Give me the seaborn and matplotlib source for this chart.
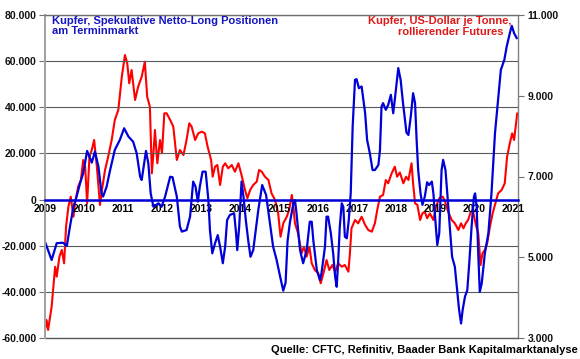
import matplotlib
matplotlib.use("Agg")
import matplotlib.pyplot as plt
from matplotlib.ticker import FuncFormatter
import seaborn as sns
import numpy as np

# ---- data: speculative net-long positions (contracts), left axis ----
blue_years = [2009.00, 2009.17, 2009.30, 2009.46, 2009.56, 2009.64, 2009.73, 2009.81, 2009.90, 2009.98,
              2010.08, 2010.20, 2010.28, 2010.37, 2010.45, 2010.49, 2010.58, 2010.67, 2010.79, 2010.92,
              2011.03, 2011.14, 2011.26, 2011.35, 2011.44, 2011.48, 2011.59, 2011.65, 2011.71, 2011.78,
              2011.91, 2011.99, 2012.08, 2012.21, 2012.27, 2012.38, 2012.46, 2012.51, 2012.63, 2012.72,
              2012.80, 2012.86, 2012.92, 2012.97, 2013.04, 2013.12, 2013.19, 2013.23, 2013.29, 2013.36,
              2013.43, 2013.49, 2013.56, 2013.62, 2013.67, 2013.74, 2013.85, 2013.90, 2013.93, 2013.98,
              2014.04, 2014.10, 2014.15, 2014.21, 2014.27, 2014.34, 2014.47, 2014.57, 2014.67, 2014.77,
              2014.85, 2014.94, 2015.03, 2015.11, 2015.17, 2015.22, 2015.28, 2015.37, 2015.41, 2015.45,
              2015.54, 2015.62, 2015.71, 2015.79, 2015.84, 2015.88, 2015.97, 2016.05, 2016.09, 2016.18,
              2016.22, 2016.26, 2016.33, 2016.39, 2016.44, 2016.48, 2016.52, 2016.56, 2016.61, 2016.65,
              2016.69, 2016.74, 2016.79, 2016.84, 2016.89, 2016.95, 2016.99, 2017.05, 2017.12, 2017.21,
              2017.26, 2017.33, 2017.40, 2017.46, 2017.55, 2017.59, 2017.63, 2017.67, 2017.74, 2017.80,
              2017.87, 2017.93, 2017.97, 2018.06, 2018.12, 2018.18, 2018.27, 2018.32, 2018.38, 2018.44,
              2018.49, 2018.53, 2018.57, 2018.63, 2018.68, 2018.74, 2018.80, 2018.85, 2018.92, 2018.96,
              2019.01, 2019.06, 2019.11, 2019.17, 2019.21, 2019.27, 2019.33, 2019.38, 2019.44, 2019.51,
              2019.57, 2019.62, 2019.67, 2019.71, 2019.77, 2019.83, 2019.88, 2019.94, 2020.00, 2020.03,
              2020.07, 2020.11, 2020.15, 2020.20, 2020.28, 2020.37, 2020.45, 2020.54, 2020.61, 2020.69,
              2020.78, 2020.84, 2020.92, 2020.97, 2021.03, 2021.10]
blue_positions = [-18300, -26200, -18900, -18700, -20100, -11700, -3100, 1300, 7100, 11400,
                  21100, 16000, 20800, 14300, 2700, 1300, 5600, 12800, 21500, 25900,
                  30900, 27300, 25100, 20100, 9900, 8500, 21100, 15700, 2700, -3100,
                  -1600, -3100, 1300, 9900, 9700, 1300, -11700, -13900, -13200, -7400,
                  7800, 5600, -900, 5600, 12100, 12100, -200, -13200, -23300, -19000,
                  -15400, -20400, -27600, -20400, -8900, -6700, -5900, -14600, -21900, -11700,
                  7800, -200, -8900, -17500, -24800, -21900, -4500, 6300, 2000, -10300,
                  -20400, -26200, -33400, -39500, -36000, -18000, -10000, -1600, -200, -5900,
                  -21900, -27600, -21900, -9600, -9600, -17500, -30500, -34900, -32000, -20400,
                  -7400, -7400, -14600, -23300, -33400, -37800, -26200, -11700, -1600, -3100,
                  -16100, -16800, -8900, 2700, 31600, 51900, 52200, 48300, 49000, 37400,
                  25900, 20100, 12800, 12800, 15000, 21500, 40300, 41800, 38900, 41000,
                  45400, 37400, 43200, 57000, 51900, 42000, 29000, 28000, 36000, 46100,
                  41800, 25900, 12800, 2700, -2300, 1300, 7500, 6300, 7800, 2700,
                  -8900, -19700, -14600, 12800, 17200, 12800, -200, -11700, -24800, -29100,
                  -39200, -47900, -53700, -47900, -42100, -39200, -27600, -11700, 1300, 2700,
                  -3100, -23300, -40000, -36300, -23300, -14600, 2700, 28800, 41800, 56200,
                  60600, 66300, 72100, 75300, 72100, 69900]

# ---- data: copper price, USD per tonne, right axis ----
red_years = [2009.00, 2009.04, 2009.08, 2009.17, 2009.26, 2009.30, 2009.37, 2009.43, 2009.49, 2009.54,
             2009.60, 2009.66, 2009.73, 2009.77, 2009.85, 2009.92, 2009.98, 2010.03, 2010.08, 2010.14,
             2010.20, 2010.26, 2010.33, 2010.41, 2010.46, 2010.54, 2010.62, 2010.71, 2010.79, 2010.88,
             2010.97, 2011.05, 2011.11, 2011.16, 2011.22, 2011.31, 2011.39, 2011.48, 2011.56, 2011.62,
             2011.69, 2011.74, 2011.78, 2011.82, 2011.88, 2011.95, 2012.00, 2012.06, 2012.12, 2012.21,
             2012.29, 2012.38, 2012.46, 2012.55, 2012.63, 2012.70, 2012.76, 2012.85, 2012.93, 2013.02,
             2013.10, 2013.17, 2013.26, 2013.30, 2013.36, 2013.42, 2013.49, 2013.56, 2013.62, 2013.70,
             2013.79, 2013.87, 2013.96, 2014.04, 2014.13, 2014.19, 2014.26, 2014.34, 2014.43, 2014.49,
             2014.56, 2014.64, 2014.73, 2014.81, 2014.90, 2014.98, 2015.04, 2015.11, 2015.20, 2015.26,
             2015.33, 2015.37, 2015.41, 2015.49, 2015.58, 2015.64, 2015.71, 2015.78, 2015.84, 2015.92,
             2016.01, 2016.07, 2016.14, 2016.22, 2016.29, 2016.37, 2016.44, 2016.52, 2016.61, 2016.69,
             2016.78, 2016.82, 2016.86, 2016.95, 2017.03, 2017.12, 2017.21, 2017.29, 2017.38, 2017.46,
             2017.52, 2017.59, 2017.67, 2017.74, 2017.80, 2017.89, 2017.97, 2018.03, 2018.10, 2018.19,
             2018.26, 2018.32, 2018.40, 2018.44, 2018.49, 2018.55, 2018.62, 2018.68, 2018.74, 2018.80,
             2018.87, 2018.96, 2019.03, 2019.11, 2019.20, 2019.26, 2019.34, 2019.43, 2019.51, 2019.60,
             2019.67, 2019.73, 2019.79, 2019.85, 2019.92, 2019.98, 2020.05, 2020.11, 2020.17, 2020.22,
             2020.28, 2020.34, 2020.41, 2020.48, 2020.56, 2020.62, 2020.71, 2020.79, 2020.85, 2020.92,
             2020.98, 2021.03, 2021.08, 2021.11]
red_price = [3200, 3445, 3200, 3775, 4766, 4520, 5015, 5180, 4850, 5757,
             6252, 6500, 6004, 6336, 6748, 6913, 7409, 7243, 6336, 7490,
             7656, 7904, 7243, 6294, 6665, 7161, 7490, 7904, 8400, 8647,
             9472, 10009, 9800, 9309, 9638, 8895, 9225, 9472, 9844, 8977,
             8729, 7079, 7574, 8152, 7327, 7904, 7574, 8565, 8565, 8400,
             8235, 7409, 7656, 7532, 7904, 8318, 8235, 7904, 8070, 8110,
             8070, 7738, 7409, 6995, 7243, 7285, 6790, 7243, 7327, 7203,
             7285, 7119, 7327, 7037, 6665, 6460, 6665, 6790, 6871, 7161,
             7119, 6995, 6913, 6583, 6418, 6088, 5509, 5841, 6004, 6170,
             6542, 6252, 5841, 5593, 5098, 5261, 5015, 5261, 4850, 4684,
             4602, 4355, 4602, 4932, 4684, 4808, 4642, 4850, 4766, 4808,
             4642, 5098, 5717, 5923, 5841, 6004, 5799, 5675, 5633, 5841,
             6170, 6500, 6542, 6913, 6831, 7079, 7243, 6995, 7100, 6831,
             6995, 6913, 7327, 6831, 6336, 6294, 5923, 6088, 6128, 5965,
             6088, 5923, 6252, 6460, 6500, 6376, 6128, 5923, 5841, 5675,
             5841, 5717, 5841, 5923, 6128, 6128, 5799, 5593, 4808, 5098,
             5180, 5345, 5757, 6088, 6376, 6583, 6665, 6831, 7490, 7822,
             8070, 7904, 8318, 8565]

year_ticks = list(range(2009, 2022))
left_ticks = list(range(-60000, 80001, 20000))
right_ticks = list(range(3000, 11001, 2000))

blue_title = "Kupfer, Spekulative Netto-Long Positionen\nam Terminmarkt"
red_title_1 = "Kupfer, US-Dollar je Tonne,"
red_title_2 = "rollierender Futures"
source_text = "Quelle: CFTC, Refinitiv, Baader Bank Kapitalmarktanalyse"

BLUE = "#0000D8"
RED = "#FF0000"

sns.set_style("white")
plt.rcParams['font.family'] = ['Liberation Sans', 'DejaVu Sans']
plt.rcParams['font.weight'] = 'bold'

W, H = 580, 359
fig = plt.figure(figsize=(W / 100, H / 100), dpi=100)
ax = fig.add_axes([45 / W, 1 - 338 / H, 473 / W, 323 / H])
ax2 = ax.twinx()
ax.set_zorder(ax2.get_zorder() + 1)
ax.patch.set_visible(False)

sns.lineplot(x=red_years, y=red_price, ax=ax2, color=RED, linewidth=1.5)
sns.lineplot(x=blue_years, y=blue_positions, ax=ax, color=BLUE, linewidth=1.6)

ax.set_xlim(2009.0, 2021.13)
ax.set_ylim(-60000, 80000)
ax2.set_ylim(3000, 11000)

ax.set_yticks(left_ticks)
ax2.set_yticks(right_ticks)
ax.set_xticks(year_ticks)
ax.set_xticklabels([str(y) for y in year_ticks])

fmt = FuncFormatter(lambda v, p: f"{int(v):,}".replace(",", "."))
ax.yaxis.set_major_formatter(fmt)
ax2.yaxis.set_major_formatter(fmt)

ax.grid(axis='y', color='#5a5a5a', linewidth=0.8)
ax.grid(axis='x', visible=False)
ax2.grid(False)
ax.axhline(-60000, color='#5a5a5a', linewidth=1.0, clip_on=False)

for a in (ax, ax2):
    a.set_xlabel("")
    a.set_ylabel("")

# spines
ax.spines['bottom'].set_position(('data', 0))
ax.spines['bottom'].set_color(BLUE)
ax.spines['bottom'].set_linewidth(1.8)
ax.spines['left'].set_color('#a0a0a0')
ax.spines['left'].set_linewidth(1.4)
ax.spines['top'].set_color('#707070')
ax.spines['top'].set_linewidth(1.0)
ax.spines['right'].set_visible(False)
for s in ('left', 'top', 'bottom'):
    ax2.spines[s].set_visible(False)
ax2.spines['right'].set_color('#808080')
ax2.spines['right'].set_linewidth(1.0)

ax.tick_params(axis='x', length=0, pad=3.5, labelsize=7.5, colors='black')
ax.tick_params(axis='y', which='major', left=True, length=4, width=0.8, color='#707070',
               pad=2, labelsize=7.5, labelcolor='#111111')
ax2.tick_params(axis='y', which='major', right=True, length=4, width=0.8, color='#707070',
                pad=3, labelsize=7.5, labelcolor='#111111')
for lab in ax.get_xticklabels() + ax.get_yticklabels() + ax2.get_yticklabels():
    lab.set_fontweight('bold')

# titles
fig.text(52 / W, 1 - 16 / H, blue_title, color="#1414C0", fontsize=8, fontweight='bold',
         ha='left', va='top', linespacing=1.0)
fig.text(512 / W, 1 - 16 / H, red_title_1, color="#DD1A1A", fontsize=8, fontweight='bold',
         ha='right', va='top')
fig.text(503 / W, 1 - 27 / H, red_title_2, color="#DD1A1A", fontsize=8, fontweight='bold',
         ha='right', va='top')
fig.text(578 / W, 1 - 350 / H, source_text, color="black", fontsize=8, fontweight='bold',
         ha='right', va='center')

fig.savefig("out.png", dpi=100)
